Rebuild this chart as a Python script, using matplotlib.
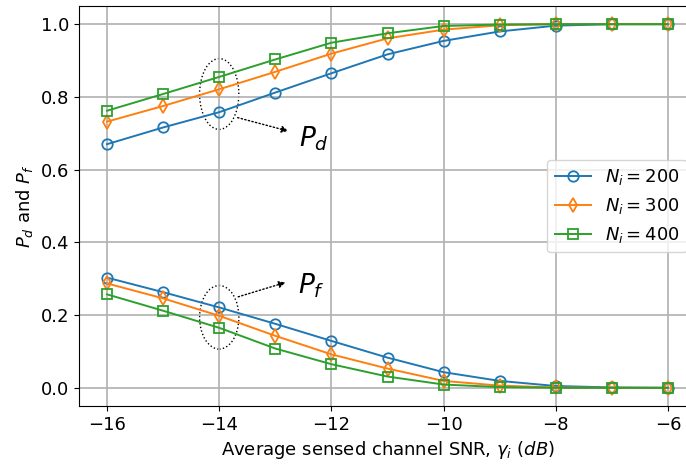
import numpy as np
import matplotlib.pyplot as plt
from matplotlib.patches import Ellipse

snr = [-16, -15, -14, -13, -12, -11, -10, -9, -8, -7, -6]
labels = ['$N_i = 200$', '$N_i = 300$', '$N_i = 400$']

pd_200 = [0.670, 0.716, 0.758, 0.812, 0.865, 0.917, 0.954, 0.980, 0.996, 1.0, 1.0]
pd_300 = [0.732, 0.775, 0.821, 0.869, 0.919, 0.961, 0.985, 0.997, 1.0, 1.0, 1.0]
pd_400 = [0.762, 0.808, 0.855, 0.903, 0.949, 0.975, 0.995, 0.999, 1.0, 1.0, 1.0]

pf_200 = [0.303, 0.263, 0.221, 0.176, 0.129, 0.083, 0.043, 0.019, 0.005, 0.001, 0.0]
pf_300 = [0.287, 0.246, 0.198, 0.143, 0.092, 0.053, 0.019, 0.006, 0.001, 0.0, 0.0]
pf_400 = [0.257, 0.212, 0.165, 0.108, 0.065, 0.031, 0.009, 0.002, 0.0, 0.0, 0.0]

colors = ['#1f77b4', '#ff7f0e', '#2ca02c']
markers = ['o', 'd', 's']

fig = plt.figure(figsize=(6.86, 4.67), dpi=100)
ax = fig.add_axes([79/686, 61/467, 617/686, 400/467])

for pd, pf, c, m, lab in zip([pd_200, pd_300, pd_400], [pf_200, pf_300, pf_400],
                             colors, markers, labels):
    ax.plot(snr, pd, color=c, marker=m, mfc='none', ms=7.5, mew=1.3, lw=1.4, label=lab)
    ax.plot(snr, pf, color=c, marker=m, mfc='none', ms=7.5, mew=1.3, lw=1.4)

# dotted ellipses grouping the curves at -14 dB
ax.add_patch(Ellipse((-14, 0.808), 0.70, 0.195, fill=False, ls=':', lw=1, ec='k'))
ax.add_patch(Ellipse((-14, 0.194), 0.70, 0.175, fill=False, ls=':', lw=1, ec='k'))
ax.annotate('', xy=(-12.72, 0.704), xytext=(-13.72, 0.745),
            arrowprops=dict(arrowstyle='-|>', ls=':', color='k', lw=1))
ax.annotate('', xy=(-12.77, 0.292), xytext=(-13.71, 0.248),
            arrowprops=dict(arrowstyle='-|>', ls=':', color='k', lw=1))
ax.text(-12.58, 0.686, '$P_d$', fontsize=19, va='center')
ax.text(-12.6, 0.282, '$P_f$', fontsize=19, va='center')

ax.set_xlim(-16.5, -5.5)
ax.set_ylim(-0.05, 1.05)
ax.set_xticks([-16, -14, -12, -10, -8, -6])
ax.set_yticks([0.0, 0.2, 0.4, 0.6, 0.8, 1.0])
ax.tick_params(labelsize=13)
ax.grid(True, color='#b0b0b0', lw=1.2)
ax.set_xlabel(r'Average sensed channel SNR, $\gamma_i$ $(dB)$', fontsize=13)
ax.set_ylabel('$P_d$ and $P_f$', fontsize=13)
ax.legend(loc='center right', fontsize=13, handlelength=2.0)

fig.savefig('out.png', dpi=100)
